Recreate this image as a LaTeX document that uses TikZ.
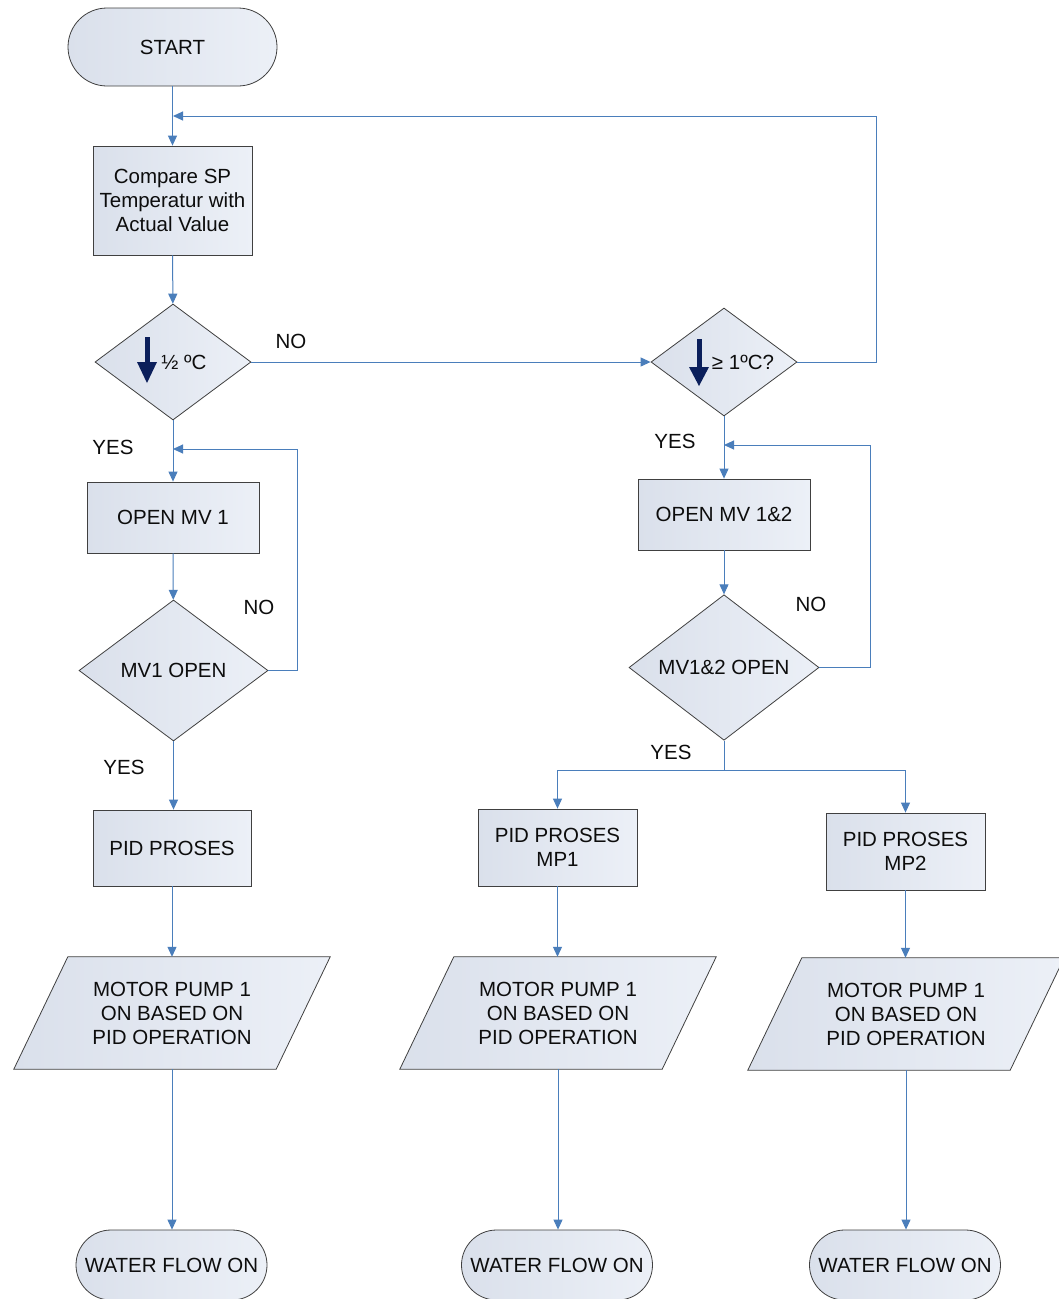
\documentclass[tikz,border=0pt]{standalone}
\usepackage{fontspec}
\setmainfont{Liberation Sans}
\usetikzlibrary{shapes.geometric,arrows.meta,backgrounds}
\definecolor{conncol}{HTML}{4A7EBB}
\definecolor{edgecol}{HTML}{404040}
\definecolor{navycol}{HTML}{0B1F5B}
\definecolor{fillL}{HTML}{DAE0EB}
\definecolor{fillR}{HTML}{ECF0F7}
\begin{document}
\begin{tikzpicture}[x=1pt,y=-1pt,
  every node/.style={font=\fontsize{20.5}{24}\selectfont, text=black!95},
  box/.style={rectangle, draw=edgecol, line width=0.8pt, left color=fillL, right color=fillR, inner sep=0, align=center},
  term/.style={box, rounded corners=35pt, minimum height=70pt},
  startterm/.style={box, rounded corners=39pt, minimum height=78pt},
  dia/.style={diamond, draw=edgecol, line width=0.8pt, left color=fillL, right color=fillR, inner sep=0, align=center},
  para/.style={rectangle, inner sep=0, minimum width=208pt, minimum height=112pt, align=center},
  parashape/.style={draw=edgecol, line width=0.8pt, left color=fillL, right color=fillR},
  conn/.style={draw=conncol, line width=1pt, -{Triangle[length=10pt,width=9pt]}},
  plainconn/.style={draw=conncol, line width=1pt},
  lbl/.style={inner sep=0}
]
\useasboundingbox (0,0) rectangle (1059,1299);

% nodes
\node[startterm, minimum width=209pt] (start) at (172.5,47) {START};
\node[box, minimum width=159pt, minimum height=109pt] (cmp) at (172.5,200.5) {Compare SP\\Temperatur with\\Actual Value};
\node[dia, minimum width=156pt, minimum height=116pt] (d1) at (173,362) {};
\node[dia, minimum width=146pt, minimum height=108pt] (d2) at (724,362) {};
\node[box, minimum width=172pt, minimum height=71pt] (mv1) at (173,517.5) {OPEN MV 1};
\node[dia, minimum width=189pt, minimum height=141pt] (d3) at (173.5,670.5) {MV1 OPEN};
\node[box, minimum width=158pt, minimum height=76pt] (pid1) at (172,848) {PID PROSES};
\node[box, minimum width=172pt, minimum height=71pt] (mv12) at (724,514.5) {OPEN MV 1\&2};
\node[dia, minimum width=190pt, minimum height=141pt] (d4) at (724,667.5) {MV1\&2 OPEN};
\node[box, minimum width=159pt, minimum height=77pt] (pid2) at (557.5,847.5) {PID PROSES\\MP1};
\node[box, minimum width=159pt, minimum height=77pt] (pid3) at (905.5,851.5) {PID PROSES\\MP2};
\node[para] (p1) at (172,1013) {MOTOR PUMP 1\\ON BASED ON\\PID OPERATION};
\node[para] (p2) at (558,1013) {MOTOR PUMP 1\\ON BASED ON\\PID OPERATION};
\node[para] (p3) at (906,1014) {MOTOR PUMP 1\\ON BASED ON\\PID OPERATION};
\node[term, minimum width=191pt] (w1) at (171.5,1265) {WATER FLOW ON};
\node[term, minimum width=191pt] (w2) at (557,1265) {WATER FLOW ON};
\node[term, minimum width=191pt] (w3) at (905,1265) {WATER FLOW ON};

\begin{scope}[on background layer]
  \fill[white] (0,0) rectangle (1059,1299);
  \foreach \n in {p1,p2,p3}
    \path[parashape] (\n.north west) -- ([xshift=54pt]\n.north east) -- (\n.south east) -- ([xshift=-54pt]\n.south west) -- cycle;
\end{scope}

% diamond contents
\draw[navycol, line width=5pt] (147,337) -- (147,364);
\fill[navycol] (137,362) -- (157,362) -- (147,383) -- cycle;
\node[lbl] (t1) at (184,362) {½ ºC};
\draw[navycol, line width=5pt] (699,339) -- (699,369);
\fill[navycol] (689,367) -- (709,367) -- (699,386) -- cycle;
\node[lbl] (t2) at (743,362) {≥ 1ºC?};

% labels
\node[lbl] (no1) at (291,341) {NO};
\node[lbl] (yes1) at (113,447) {YES};
\node[lbl] (no2) at (259,607) {NO};
\node[lbl] (yes2) at (124,767) {YES};
\node[lbl] (yes3) at (675,441) {YES};
\node[lbl] (no3) at (811,604) {NO};
\node[lbl] (yes4) at (671,752) {YES};

% coordinates
\coordinate (j1) at (173,116);
\coordinate (j2) at (173,449);
\coordinate (j3) at (724,445);
\coordinate (split) at (724,770);

% connectors
\draw[conn] (start) -- (cmp);
\draw[conn] (d2.east) -- ++(79,0) |- (j1);
\draw[conn] (cmp) -- (d1);
\draw[conn] (d1.east) -- (d2.west);
\draw[conn] (d1.south) -- (mv1);
\draw[conn] (mv1) -- (d3);
\draw[conn] (d3.east) -- ++(29,0) |- (j2);
\draw[conn] (d3.south) -- (d3.south |- pid1.north);
\draw[conn] (pid1) -- (p1);
\draw[conn] (p1.south) -- (p1.south |- w1.north);
\draw[conn] (d2.south) -- (mv12);
\draw[conn] (mv12) -- (d4);
\draw[conn] (d4.east) -- ++(51,0) |- (j3);
\draw[plainconn] (d4.south) -- (split);
\draw[conn] (split) -| (pid2.north);
\draw[conn] (split) -| (pid3.north);
\draw[conn] (pid2.south) -- (pid2.south |- p2.north);
\draw[conn] (pid3.south) -- (pid3.south |- p3.north);
\draw[conn] (p2.south) -- (p2.south |- w2.north);
\draw[conn] (p3.south) -- (p3.south |- w3.north);
\end{tikzpicture}
\end{document}
